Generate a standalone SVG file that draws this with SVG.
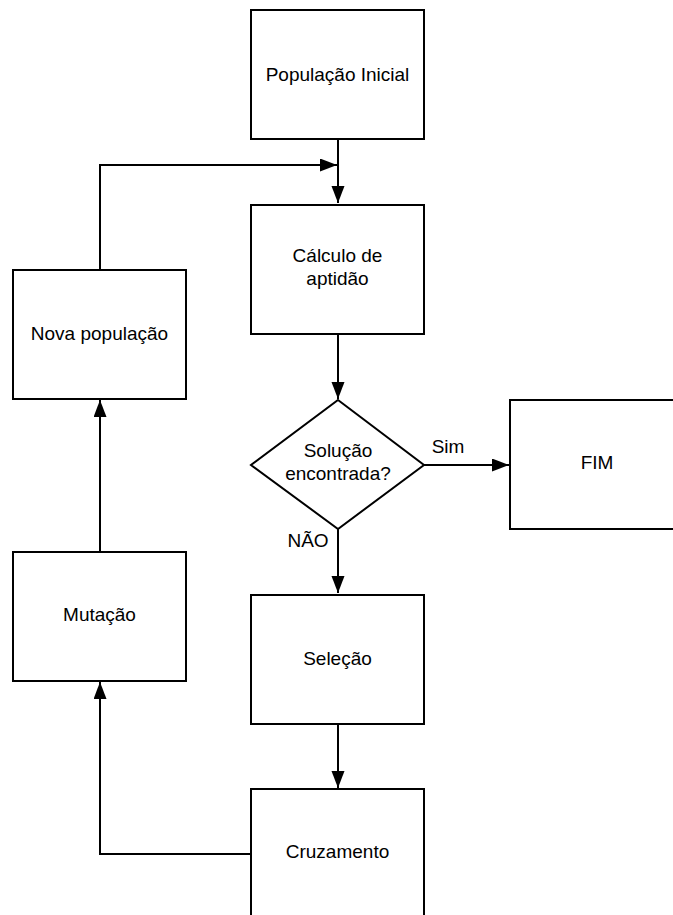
<svg xmlns="http://www.w3.org/2000/svg" width="673" height="915" viewBox="0 0 673 915">
<style>
.box{fill:#fff;stroke:#000;stroke-width:2}
.lbl{font-family:"Liberation Sans",Arial,sans-serif;font-size:19px;fill:#000;text-anchor:middle}
.conn{fill:none;stroke:#000;stroke-width:2}
</style>
<defs>
<marker id="ah" markerUnits="userSpaceOnUse" markerWidth="18" markerHeight="14" refX="17" refY="6.5" orient="auto">
<path d="M0,0 L17,6.5 L0,13 z" fill="#000"/>
</marker>
</defs>
<rect width="673" height="915" fill="#fff"/>
<g id="connectors">
<path class="conn" d="M338,139 V203" marker-end="url(#ah)"/>
<path class="conn" d="M100,269 V165 H337" marker-end="url(#ah)"/>
<path class="conn" d="M338,334 V399" marker-end="url(#ah)"/>
<path class="conn" d="M424,465 H509" marker-end="url(#ah)"/>
<path class="conn" d="M338,529 V593" marker-end="url(#ah)"/>
<path class="conn" d="M338,724 V788" marker-end="url(#ah)"/>
<path class="conn" d="M251,854 H100 V682" marker-end="url(#ah)"/>
<path class="conn" d="M100,552 V400" marker-end="url(#ah)"/>
<text class="lbl" x="448" y="453">Sim</text>
<text class="lbl" x="308" y="547">NÃO</text>
</g>
<g id="populacao-inicial">
<rect class="box" x="251" y="10" width="173" height="129"/>
<text class="lbl" x="337.5" y="81">População Inicial</text>
</g>
<g id="calculo-aptidao">
<rect class="box" x="251" y="205" width="173" height="129"/>
<text class="lbl" x="337.5" y="262">Cálculo de</text>
<text class="lbl" x="337.5" y="285">aptidão</text>
</g>
<g id="solucao">
<path class="box" d="M338,400 L424,465 L338,529 L251,465 Z"/>
<text class="lbl" x="338" y="457">Solução</text>
<text class="lbl" x="338" y="480">encontrada?</text>
</g>
<g id="fim">
<rect class="box" x="510" y="400" width="175" height="129"/>
<text class="lbl" x="597" y="469">FIM</text>
</g>
<g id="selecao">
<rect class="box" x="251" y="595" width="173" height="129"/>
<text class="lbl" x="337.5" y="665">Seleção</text>
</g>
<g id="cruzamento">
<rect class="box" x="251" y="789" width="173" height="140"/>
<text class="lbl" x="337.5" y="858">Cruzamento</text>
</g>
<g id="mutacao">
<rect class="box" x="13" y="552" width="173" height="129"/>
<text class="lbl" x="99.5" y="621">Mutação</text>
</g>
<g id="nova-populacao">
<rect class="box" x="13" y="270" width="173" height="129"/>
<text class="lbl" x="99.5" y="340">Nova população</text>
</g>
</svg>
